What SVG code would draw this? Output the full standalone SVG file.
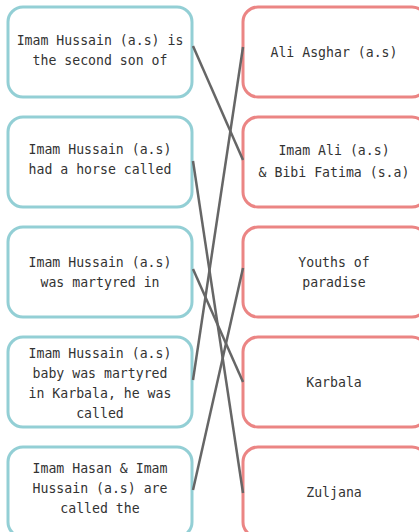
<svg xmlns="http://www.w3.org/2000/svg" width="419" height="532" viewBox="0 0 419 532">
<style>
.l{fill:#fff;stroke:#93CFD5;stroke-width:3}
.r{fill:#fff;stroke:#EB8584;stroke-width:3}
text{font-family:"DejaVu Sans Mono","Liberation Mono",monospace;font-size:13.2px;fill:#333;text-anchor:middle}
.c line{stroke:#666;stroke-width:2.5}
</style>
<rect width="419" height="532" fill="#fff"/>
<g id="L1"><rect class="l" x="8" y="7" width="184" height="90" rx="15"/><text x="100" y="45">Imam Hussain (a.s) is</text><text x="100" y="65">the second son of</text></g>
<g id="L2"><rect class="l" x="8" y="117" width="184" height="90" rx="15"/><text x="100" y="154">Imam Hussain (a.s)</text><text x="100" y="174">had a horse called</text></g>
<g id="L3"><rect class="l" x="8" y="227" width="184" height="90" rx="15"/><text x="100" y="267">Imam Hussain (a.s)</text><text x="100" y="287">was martyred in</text></g>
<g id="L4"><rect class="l" x="8" y="337" width="184" height="90" rx="15"/><text x="100" y="358">Imam Hussain (a.s)</text><text x="100" y="378">baby was martyred</text><text x="100" y="398">in Karbala, he was</text><text x="100" y="418">called</text></g>
<g id="L5"><rect class="l" x="8" y="447" width="184" height="90" rx="15"/><text x="100" y="473">Imam Hasan &amp; Imam</text><text x="100" y="493">Hussain (a.s) are</text><text x="100" y="513">called the</text></g>
<g id="R1"><rect class="r" x="243" y="7" width="184" height="90" rx="15"/><text x="334" y="57">Ali Asghar (a.s)</text></g>
<g id="R2"><rect class="r" x="243" y="117" width="184" height="90" rx="15"/><text x="334" y="155">Imam Ali (a.s)</text><text x="334" y="177">&amp; Bibi Fatima (s.a)</text></g>
<g id="R3"><rect class="r" x="243" y="227" width="184" height="90" rx="15"/><text x="334" y="267">Youths of</text><text x="334" y="287">paradise</text></g>
<g id="R4"><rect class="r" x="243" y="337" width="184" height="90" rx="15"/><text x="334" y="387">Karbala</text></g>
<g id="R5"><rect class="r" x="243" y="447" width="184" height="90" rx="15"/><text x="334" y="497">Zuljana</text></g>
<g class="c" id="connectors">
<line x1="193" y1="46" x2="243" y2="160"/>
<line x1="193" y1="161" x2="243" y2="493"/>
<line x1="193" y1="269" x2="243" y2="382"/>
<line x1="193" y1="380" x2="243" y2="47"/>
<line x1="193" y1="490" x2="243" y2="268"/>
</g>
</svg>
